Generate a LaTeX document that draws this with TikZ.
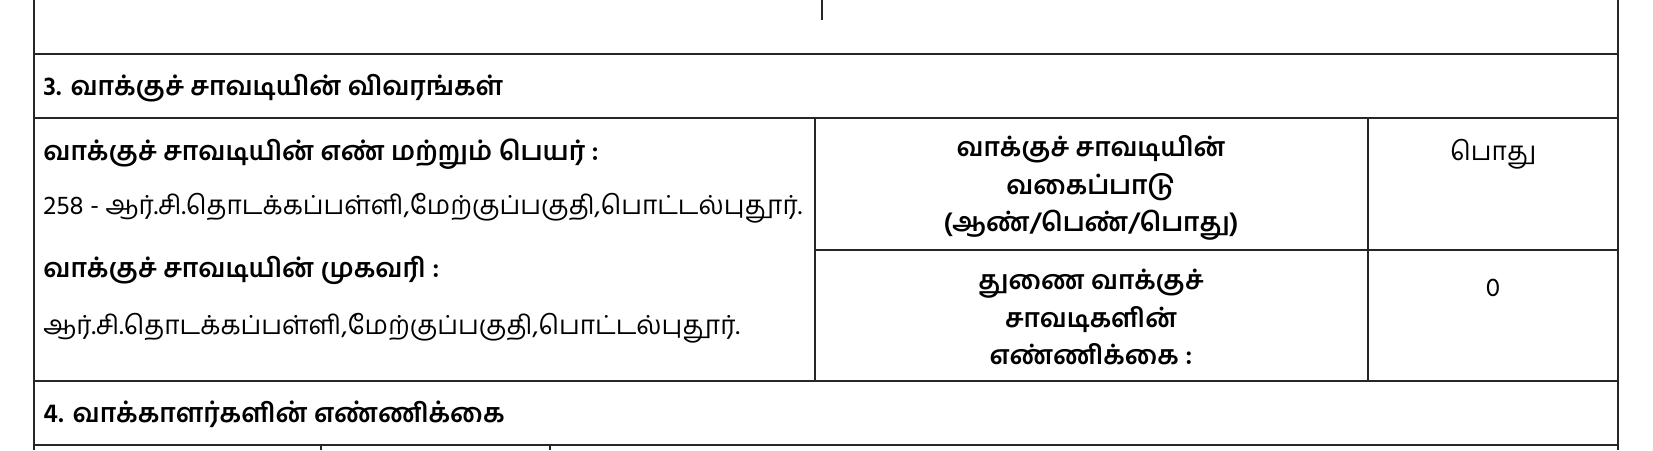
\documentclass[tikz,border=0pt]{standalone}
\usepackage{fontspec}
\setmainfont[Script=Tamil]{Hind Madurai}
\usetikzlibrary{positioning}
\tikzset{
	every picture/.style={x=0.5pt,y=-0.5pt},
	rule/.style={line width=1pt,black!85},
	cellhead/.style={anchor=west,inner sep=0pt,font=\fontsize{13.2}{16}\selectfont\bfseries},
	celltext/.style={anchor=west,inner sep=0pt,font=\fontsize{13.1}{16}\selectfont},
	cellmid/.style={align=center,inner sep=0pt,font=\fontsize{13.1}{18.8}\selectfont\bfseries},
	cellval/.style={inner sep=0pt,font=\fontsize{13.1}{16}\selectfont}
}
\begin{document}
\begin{tikzpicture}
\useasboundingbox (0,0) rectangle (1653,450);
%表格外框与横线
\draw[rule] (34,0) -- (34,450);
\draw[rule] (1618,0) -- (1618,450);
\draw[rule] (822,0) -- (822,20);
\foreach \y in {54,118,381,445}
	\draw[rule] (34,\y) -- (1618,\y);
%右侧两格
\draw[rule] (815,250) -- (1618,250);
\draw[rule] (815,118) -- (815,381);
\draw[rule] (1368,118) -- (1368,381);
%下一行的竖线
\draw[rule] (321,445) -- (321,450);
\draw[rule] (550,445) -- (550,450);
%左侧文字
\node[cellhead] (sec3) at (43,88) {3. வாக்குச் சாவடியின் விவரங்கள்};
\node[cellhead] (namehd) at (43,154) {வாக்குச் சாவடியின் எண் மற்றும் பெயர் :};
\node[celltext] (name) at (43,208) {258 - ஆர்.சி.தொடக்கப்பள்ளி,மேற்குப்பகுதி,பொட்டல்புதூர்.};
\node[cellhead] (addrhd) at (43,270) {வாக்குச் சாவடியின் முகவரி :};
\node[celltext] (addr) at (43,328) {ஆர்.சி.தொடக்கப்பள்ளி,மேற்குப்பகுதி,பொட்டல்புதூர்.};
\node[cellhead] (sec4) at (43,414) {4. வாக்காளர்களின் எண்ணிக்கை};
%中间与右侧文字
\node[cellmid] (type) at (1091,188) {வாக்குச் சாவடியின்\\வகைப்பாடு\\(ஆண்/பெண்/பொது)};
\node[cellval] (typeval) at (1493,154) {பொது};
\node[cellmid] (aux) at (1091,317) {துணை வாக்குச்\\சாவடிகளின்\\எண்ணிக்கை :};
\node[cellval] (auxval) at (1493,288) {0};
\end{tikzpicture}
\end{document}
